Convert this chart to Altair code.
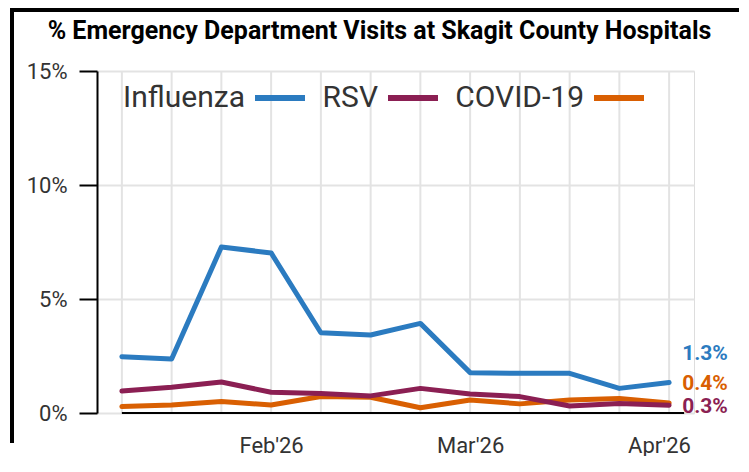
import altair as alt
import pandas as pd

# ---- data ----
dates = ["2026-01-11", "2026-01-18", "2026-01-25", "2026-02-01", "2026-02-08", "2026-02-15",
         "2026-02-22", "2026-03-01", "2026-03-08", "2026-03-15", "2026-03-22", "2026-03-29"]
influenza = [2.47, 2.37, 7.28, 7.02, 3.52, 3.42, 3.93, 1.77, 1.74, 1.74, 1.08, 1.34]
rsv = [0.96, 1.13, 1.36, 0.91, 0.85, 0.75, 1.08, 0.83, 0.72, 0.31, 0.42, 0.34]
covid = [0.28, 0.35, 0.50, 0.35, 0.72, 0.69, 0.23, 0.57, 0.40, 0.57, 0.64, 0.44]

series_names = ["Influenza", "RSV", "COVID-19"]
series_colors = ["#2b7bc0", "#8b1f53", "#d95f02"]
draw_order = ["Influenza", "COVID-19", "RSV"]
label_dy = {"Influenza": -22, "COVID-19": -13, "RSV": 8}

y_ticks = [0, 5, 10, 15]
month_ticks = [(2026, 2, 1), (2026, 3, 1), (2026, 4, 1)]
x_domain = [(2026, 1, 7, 12), (2026, 4, 1, 12)]

title_text = "% Emergency Department Visits at Skagit County Hospitals"

# ---- tables ----
values = {"Influenza": influenza, "RSV": rsv, "COVID-19": covid}
rows = []
for name in series_names:
    for i, (d, v) in enumerate(zip(dates, values[name])):
        rows.append({"date": d, "week": i, "series": name, "value": v})
df = pd.DataFrame(rows)
df_dates = pd.DataFrame({"date": dates})
df_axis = pd.DataFrame({"start": [dates[0]], "end": [dates[-1]]})
df_one = pd.DataFrame({"k": [0]})
last_week = len(dates) - 1

W, H = 597, 342
FONT = "Roboto"

x_scale = alt.Scale(
    type="utc",
    domain=[alt.DateTime(year=a, month=b, date=c, hours=h, utc=True) for a, b, c, h in x_domain],
)
y_scale = alt.Scale(domain=[0, 15], nice=False, zero=True)

x_axis = alt.Axis(
    values=[alt.DateTime(year=a, month=b, date=c, utc=True) for a, b, c in month_ticks],
    labelExpr="utcFormat(datum.value, \"%b'%y\")",
    grid=False, ticks=False, tickSize=0, domain=False,
    labelFlush=15, labelFontSize=22, labelFont=FONT, labelColor="#333333",
    labelPadding=39, labelBaseline="alphabetic", title=None,
)
y_axis = alt.Axis(
    values=y_ticks, labelExpr="datum.value + '%'",
    grid=True, gridColor="#e3e3e3", gridWidth=2,
    domainColor="black", domainWidth=2,
    tickColor="black", tickWidth=2, tickSize=18,
    labelPadding=12, labelFontSize=22, labelFont=FONT, labelColor="#333333", title=None,
)

X = alt.X("date:T", scale=x_scale, axis=x_axis)
Y = alt.Y("value:Q", scale=y_scale, axis=y_axis)

color = alt.Color(
    "series:N",
    scale=alt.Scale(domain=series_names, range=series_colors),
    legend=alt.Legend(
        title=None, orient="none", legendX=155, legendY=-1, direction="horizontal",
        symbolType="stroke", symbolSize=2500, symbolStrokeWidth=6,
        labelFontSize=30, labelFont=FONT, labelColor="#333333",
        labelAlign="right", labelOffset={"expr": "-63"}, columnPadding=5, labelLimit=0,
    ),
)

vgrid = alt.Chart(df_dates).mark_rule(color="#e3e3e3", strokeWidth=2).encode(
    x=alt.X("date:T", scale=x_scale, axis=x_axis), y=alt.datum(0), y2=alt.datum(15)
)

base_line = alt.Chart(df_axis).mark_rule(color="black", strokeWidth=2, x2Offset=15).encode(
    x=alt.X("start:T", scale=x_scale, axis=x_axis), x2="end:T", y=alt.datum(0)
)

layers = [vgrid, base_line]
for name in draw_order:
    layers.append(
        alt.Chart(df).transform_filter(alt.datum.series == name)
        .mark_line(strokeWidth=5, strokeCap="round", strokeJoin="round")
        .encode(x=X, y=Y, color=color)
    )

for name in draw_order:
    c = series_colors[series_names.index(name)]
    layers.append(
        alt.Chart(df)
        .transform_filter((alt.datum.series == name) & (alt.datum.week == last_week))
        .transform_calculate(label="format(datum.value, '.1f') + '%'")
        .mark_text(align="left", baseline="alphabetic", dx=13, dy=label_dy[name],
                   fontSize=21, fontWeight="bold", font=FONT, color=c)
        .encode(x=X, y=Y, text="label:N")
    )

# chart frame (left and top edges; the rest lies outside the picture)
frame_style = dict(color="black", strokeWidth=4)
layers.append(alt.Chart(df_one).mark_rule(**frame_style).encode(
    x=alt.value(-85), y=alt.value(-61), y2=alt.value(H + 30)))
layers.append(alt.Chart(df_one).mark_rule(**frame_style).encode(
    x=alt.value(-87), x2=alt.value(W + 45), y=alt.value(-61)))

chart = alt.layer(*layers).properties(
    width=W, height=H,
    padding=0,
    title=alt.Title(title_text, fontSize=25, fontWeight="bold", font=FONT, color="black",
                    anchor="middle", frame="group", dx=-16, offset=-56, baseline="alphabetic"),
).configure_view(stroke=None).configure(background="white")

chart.save("out.html", embed_options={"renderer": "svg", "actions": False})
